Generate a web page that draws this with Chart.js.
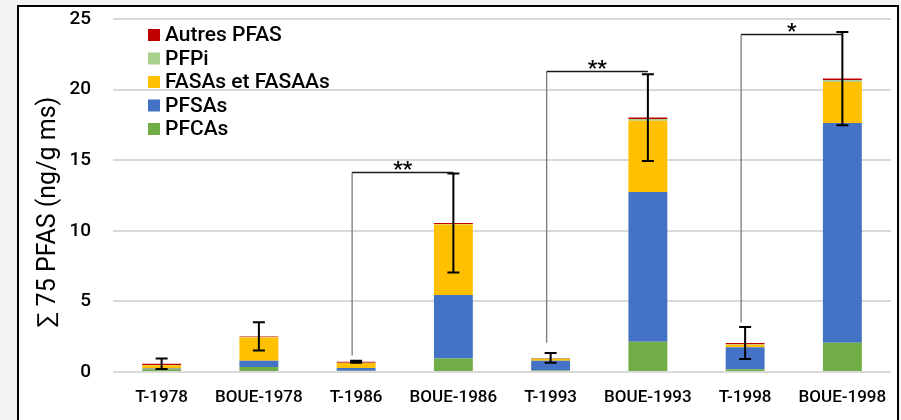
<!DOCTYPE html>
<html lang="fr">
<head>
<meta charset="utf-8">
<title>PFAS</title>
<script src="https://cdn.jsdelivr.net/npm/chart.js@4.4.1/dist/chart.umd.min.js"></script>
<style>
    html, body { margin: 0; padding: 0; background: #f3f3f3; }
    body { width: 901px; height: 420px; position: relative; overflow: hidden; }
    #frame {
        position: absolute; left: 17px; top: 5px; width: 882px; height: 430px;
        box-sizing: border-box; border: 2px solid #000; background: #fff;
    }
    #chart { position: absolute; left: 0; top: 0; }
</style>
</head>
<body>
<div id="frame"></div>
<canvas id="chart" width="901" height="420"></canvas>
<script>
// Sites / years
const categories = ['T-1978', 'BOUE-1978', 'T-1986', 'BOUE-1986', 'T-1993', 'BOUE-1993', 'T-1998', 'BOUE-1998'];

// Concentrations per family (ng/g ms), stacked bottom to top
const pfcas  = [0.20, 0.35, 0.08, 0.95, 0.10, 2.15, 0.20, 2.07];
const pfsas  = [0.05, 0.45, 0.20, 4.50, 0.70, 10.60, 1.55, 15.57];
const fasas  = [0.22, 1.65, 0.35, 5.00, 0.12, 5.05, 0.18, 2.90];
const pfpi   = [0.03, 0.02, 0.03, 0.03, 0.03, 0.12, 0.04, 0.12];
const autres = [0.08, 0.05, 0.06, 0.07, 0.05, 0.10, 0.08, 0.12];

// Standard deviation on the total
const errHalf = [0.37, 1.00, 0.07, 3.50, 0.34, 3.07, 1.13, 3.30];

// Significance brackets: T bar -> BOUE bar
const brackets = [
    { from: 2, to: 3, base: 1.17, top: 14.18, label: '**' },
    { from: 4, to: 5, base: 2.07, top: 21.29, label: '**' },
    { from: 6, to: 7, base: 3.50, top: 23.96, label: '*' }
];

const yTicks = [0, 5, 10, 15, 20, 25];

const FONT = 'Roboto, "DejaVu Sans", sans-serif';

const totals = categories.map((_, i) => pfcas[i] + pfsas[i] + fasas[i] + pfpi[i] + autres[i]);

// Error bars drawn on the stack totals
const errorBarPlugin = {
    id: 'errorBars',
    afterDatasetsDraw(chart) {
        const { ctx, scales: { x, y } } = chart;
        ctx.save();
        ctx.strokeStyle = '#000';
        ctx.lineWidth = 2;
        totals.forEach((t, i) => {
            const px = x.getPixelForValue(i);
            const top = y.getPixelForValue(t + errHalf[i]);
            const bot = y.getPixelForValue(t - errHalf[i]);
            ctx.beginPath();
            ctx.moveTo(px, top); ctx.lineTo(px, bot);
            ctx.moveTo(px - 6, top); ctx.lineTo(px + 6, top);
            ctx.moveTo(px - 6, bot); ctx.lineTo(px + 6, bot);
            ctx.stroke();
        });
        ctx.restore();
    }
};

// Brackets with significance stars
const bracketPlugin = {
    id: 'brackets',
    afterDatasetsDraw(chart) {
        const { ctx, scales: { x, y } } = chart;
        ctx.save();
        brackets.forEach(b => {
            const x0 = x.getPixelForValue(b.from) - 4;
            const x1 = x.getPixelForValue(b.to);
            const yTop = Math.round(y.getPixelForValue(b.top)) + 0.5;
            const yBase = y.getPixelForValue(b.base);
            ctx.lineWidth = 1.3;
            ctx.strokeStyle = '#7a7a7a';
            ctx.beginPath();
            ctx.moveTo(x0, yBase); ctx.lineTo(x0, yTop);
            ctx.stroke();
            ctx.strokeStyle = '#1a1a1a';
            ctx.beginPath();
            ctx.moveTo(x0, yTop); ctx.lineTo(x1, yTop);
            ctx.stroke();
            ctx.fillStyle = '#000';
            ctx.font = 'bold 21px ' + FONT;
            ctx.textAlign = 'center';
            ctx.textBaseline = 'alphabetic';
            ctx.fillText(b.label, (x0 + x1) / 2, yTop + 3);
        });
        ctx.restore();
    }
};

// Legend inside the plot area + rotated axis title
const decorPlugin = {
    id: 'decor',
    afterDraw(chart) {
        const { ctx } = chart;
        ctx.save();
        const items = chart.data.datasets.slice().reverse();
        ctx.font = '500 21px ' + FONT;
        ctx.textAlign = 'left';
        ctx.textBaseline = 'middle';
        items.forEach((ds, k) => {
            const cy = 35 + k * 23.5;
            ctx.fillStyle = ds.backgroundColor;
            ctx.fillRect(148, cy - 6, 12, 12);
            ctx.fillStyle = '#000';
            ctx.fillText(ds.label, 165, cy + 1);
        });

        ctx.translate(49, 212);
        ctx.rotate(-Math.PI / 2);
        ctx.font = '400 25px ' + FONT;
        ctx.textAlign = 'center';
        ctx.textBaseline = 'middle';
        ctx.fillStyle = '#000';
        ctx.fillText('\u2211 75 PFAS (ng/g ms)', 0, 0);
        ctx.restore();
    }
};

const mkSet = (label, data, color) => ({
    label, data,
    backgroundColor: color,
    borderWidth: 0,
    categoryPercentage: 0.8,
    barPercentage: 0.5
});

new Chart(document.getElementById('chart'), {
    type: 'bar',
    data: {
        labels: categories,
        datasets: [
            mkSet('PFCAs', pfcas, '#70AD47'),
            mkSet('PFSAs', pfsas, '#4472C4'),
            mkSet('FASAs et FASAAs', fasas, '#FFC000'),
            mkSet('PFPi', pfpi, '#A9D18E'),
            mkSet('Autres PFAS', autres, '#C00000')
        ]
    },
    options: {
        responsive: false,
        animation: false,
        devicePixelRatio: 1,
        layout: { padding: { left: 0, right: 10, top: 19, bottom: 0 } },
        plugins: {
            legend: { display: false },
            tooltip: { enabled: false }
        },
        scales: {
            x: {
                stacked: true,
                grid: { display: false },
                border: { display: false },
                ticks: {
                    color: '#000',
                    font: { family: FONT, size: 17, weight: 500 },
                    padding: 8,
                    maxRotation: 0
                },
                afterFit: s => { s.height = 48; }
            },
            y: {
                stacked: true,
                min: 0,
                max: 25,
                afterBuildTicks: s => { s.ticks = yTicks.map(v => ({ value: v })); },
                grid: { color: '#d9d9d9', lineWidth: 2, drawTicks: false },
                border: { display: false },
                ticks: {
                    color: '#000',
                    font: { family: FONT, size: 19, weight: 500 },
                    padding: 22
                },
                afterFit: s => {
                    s.width = 113;
                    s.paddingTop = 0;
                    s.paddingBottom = 0;
                }
            }
        }
    },
    plugins: [errorBarPlugin, bracketPlugin, decorPlugin]
});
</script>
</body>
</html>
